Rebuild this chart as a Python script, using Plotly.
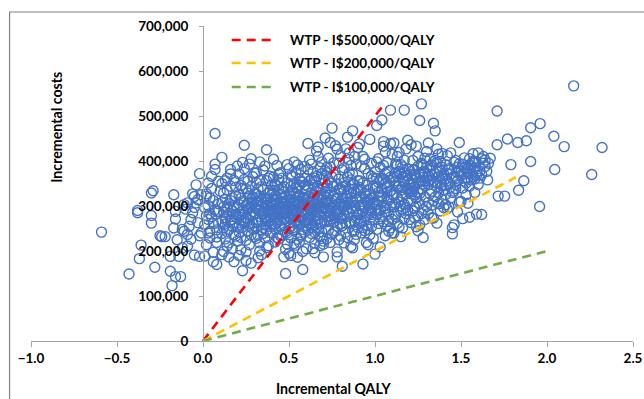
import plotly.graph_objects as go

# Probabilistic sensitivity analysis: incremental QALY vs incremental cost (thousands)
# Negative-QALY tail
qaly_neg = [
    -0.59, -0.43, -0.18, -0.16, -0.13, -0.19, -0.28, -0.37, -0.36, -0.38,
    -0.38, -0.29, -0.30, -0.30, -0.30, -0.24, -0.22, -0.25, -0.17, -0.16,
    -0.16, -0.17, -0.15, -0.19, -0.14, -0.11, -0.12, -0.09, -0.10, -0.09,
    -0.05, -0.06, -0.03, -0.04, -0.02, -0.05, -0.02, -0.12, -0.09, -0.07,
    -0.06, -0.01, -0.04, -0.03, -0.08, -0.02, -0.11, -0.05, -0.01, -0.07,
]
cost_neg = [
    242, 149, 123, 143, 143, 155, 164, 183, 213, 285,
    290, 334, 329, 279, 262, 232, 232, 234, 325, 288,
    271, 251, 225, 188, 188, 244, 248, 237, 293, 307,
    321, 327, 314, 347, 372, 191, 188, 207, 211, 270,
    285, 325, 307, 263, 255, 234, 303, 297, 240, 226,
]

# Main cloud, 0.0 - 1.0 QALY
qaly_low = [
    0.01, 0.03, 0.05, 0.02, 0.07, 0.04, 0.09, 0.06, 0.08, 0.03,
    0.07, 0.02, 0.05, 0.09, 0.01, 0.06, 0.04, 0.08, 0.03, 0.07,
    0.05, 0.08, 0.02, 0.09, 0.04, 0.06, 0.01, 0.10, 0.07, 0.03,
    0.06, 0.09, 0.04, 0.02, 0.08,
    0.11, 0.14, 0.12, 0.17, 0.19, 0.13, 0.16, 0.18, 0.15, 0.11,
    0.13, 0.16, 0.19, 0.12, 0.14, 0.17, 0.15, 0.18, 0.11, 0.20,
    0.15, 0.12, 0.18, 0.14, 0.16, 0.19, 0.11, 0.13, 0.17, 0.20,
    0.17, 0.14, 0.12, 0.19, 0.16, 0.13, 0.18, 0.15, 0.11, 0.20,
    0.14, 0.18, 0.16, 0.12, 0.19, 0.15, 0.13, 0.17, 0.11, 0.20,
    0.21, 0.24, 0.27, 0.22, 0.29, 0.25, 0.23, 0.28, 0.26, 0.21,
    0.23, 0.26, 0.29, 0.22, 0.25, 0.28, 0.24, 0.27, 0.21, 0.30,
    0.25, 0.22, 0.28, 0.24, 0.26, 0.29, 0.21, 0.23, 0.27, 0.30,
    0.27, 0.24, 0.22, 0.29, 0.26, 0.23, 0.28, 0.25, 0.21, 0.30,
    0.24, 0.28, 0.26, 0.22, 0.29, 0.25, 0.23, 0.27, 0.21, 0.30,
    0.26, 0.21, 0.29, 0.23, 0.28, 0.24, 0.22, 0.27, 0.25, 0.30,
    0.31, 0.34, 0.37, 0.32, 0.39, 0.35, 0.33, 0.38, 0.36, 0.31,
    0.33, 0.36, 0.39, 0.32, 0.35, 0.38, 0.34, 0.37, 0.31, 0.40,
    0.35, 0.32, 0.38, 0.34, 0.36, 0.39, 0.31, 0.33, 0.37, 0.40,
    0.37, 0.34, 0.32, 0.39, 0.36, 0.33, 0.38, 0.35, 0.31, 0.40,
    0.34, 0.38, 0.36, 0.32, 0.39, 0.35, 0.33, 0.37, 0.31, 0.40,
    0.36, 0.31, 0.39, 0.33, 0.38, 0.34, 0.32, 0.37, 0.35, 0.40,
    0.33, 0.37, 0.35, 0.39, 0.31,
    0.41, 0.44, 0.47, 0.42, 0.49, 0.45, 0.43, 0.48, 0.46, 0.41,
    0.43, 0.46, 0.49, 0.42, 0.45, 0.48, 0.44, 0.47, 0.41, 0.50,
    0.45, 0.42, 0.48, 0.44, 0.46, 0.49, 0.41, 0.43, 0.47, 0.50,
    0.47, 0.44, 0.42, 0.49, 0.46, 0.43, 0.48, 0.45, 0.41, 0.50,
    0.44, 0.48, 0.46, 0.42, 0.49, 0.45, 0.43, 0.47, 0.41, 0.50,
    0.46, 0.41, 0.49, 0.43, 0.48, 0.44, 0.42, 0.47, 0.45, 0.50,
    0.48, 0.42, 0.45, 0.47, 0.44, 0.41, 0.49, 0.43, 0.46, 0.50,
    0.51, 0.54, 0.57, 0.52, 0.59, 0.55, 0.53, 0.58, 0.56, 0.51,
    0.53, 0.56, 0.59, 0.52, 0.55, 0.58, 0.54, 0.57, 0.51, 0.60,
    0.55, 0.52, 0.58, 0.54, 0.56, 0.59, 0.51, 0.53, 0.57, 0.60,
    0.57, 0.54, 0.52, 0.59, 0.56, 0.53, 0.58, 0.55, 0.51, 0.60,
    0.54, 0.58, 0.56, 0.52, 0.59, 0.55, 0.53, 0.57, 0.51, 0.60,
    0.56, 0.51, 0.59, 0.53, 0.58, 0.54, 0.52, 0.57, 0.55, 0.60,
    0.58, 0.52, 0.55, 0.57, 0.54, 0.51, 0.59, 0.53, 0.56, 0.60,
    0.53, 0.57, 0.55, 0.51, 0.59,
    0.61, 0.64, 0.67, 0.62, 0.69, 0.65, 0.63, 0.68, 0.66, 0.61,
    0.63, 0.66, 0.69, 0.62, 0.65, 0.68, 0.64, 0.67, 0.61, 0.70,
    0.65, 0.62, 0.68, 0.64, 0.66, 0.69, 0.61, 0.63, 0.67, 0.70,
    0.67, 0.64, 0.62, 0.69, 0.66, 0.63, 0.68, 0.65, 0.61, 0.70,
    0.64, 0.68, 0.66, 0.62, 0.69, 0.65, 0.63, 0.67, 0.61, 0.70,
    0.66, 0.61, 0.69, 0.63, 0.68, 0.64, 0.62, 0.67, 0.65, 0.70,
    0.68, 0.62, 0.65, 0.67, 0.64, 0.61, 0.69, 0.63, 0.66, 0.70,
    0.63, 0.67, 0.65, 0.61, 0.69,
    0.71, 0.74, 0.77, 0.72, 0.79, 0.75, 0.73, 0.78, 0.76, 0.71,
    0.73, 0.76, 0.79, 0.72, 0.75, 0.78, 0.74, 0.77, 0.71, 0.80,
    0.75, 0.72, 0.78, 0.74, 0.76, 0.79, 0.71, 0.73, 0.77, 0.80,
    0.77, 0.74, 0.72, 0.79, 0.76, 0.73, 0.78, 0.75, 0.71, 0.80,
    0.74, 0.78, 0.76, 0.72, 0.79, 0.75, 0.73, 0.77, 0.71, 0.80,
    0.76, 0.71, 0.79, 0.73, 0.78, 0.74, 0.72, 0.77, 0.75, 0.80,
    0.78, 0.72, 0.75, 0.77, 0.74, 0.70, 0.79, 0.73, 0.76, 0.80,
    0.81, 0.84, 0.87, 0.82, 0.89, 0.85, 0.83, 0.88, 0.86, 0.81,
    0.83, 0.86, 0.89, 0.82, 0.85, 0.88, 0.84, 0.87, 0.81, 0.90,
    0.85, 0.82, 0.88, 0.84, 0.86, 0.89, 0.81, 0.83, 0.87, 0.90,
    0.87, 0.84, 0.82, 0.89, 0.86, 0.83, 0.88, 0.85, 0.81, 0.90,
    0.84, 0.88, 0.86, 0.82, 0.89, 0.85, 0.83, 0.87, 0.81, 0.90,
    0.86, 0.81, 0.89, 0.83, 0.88, 0.84, 0.82, 0.87, 0.85, 0.90,
    0.88, 0.82, 0.85, 0.87, 0.84,
    0.91, 0.94, 0.97, 0.92, 0.99, 0.95, 0.93, 0.98, 0.96, 0.91,
    0.93, 0.96, 0.99, 0.92, 0.95, 0.98, 0.94, 0.97, 0.91, 1.00,
    0.95, 0.92, 0.98, 0.94, 0.96, 0.99, 0.91, 0.93, 0.97, 1.00,
    0.97, 0.94, 0.92, 0.99, 0.96, 0.93, 0.98, 0.95, 0.91, 1.00,
    0.94, 0.98, 0.96, 0.92, 0.99, 0.95, 0.93, 0.97, 0.91, 1.00,
    0.96, 0.91, 0.99, 0.93, 0.98, 0.94, 0.92, 0.97, 0.95, 1.00,
]
cost_low = [
    258, 301, 276, 322, 393, 244, 288, 312, 231, 270,
    381, 214, 339, 262, 296, 197, 318, 247, 351, 461,
    366, 170, 278, 305, 229, 261, 189, 333, 292, 240,
    176, 355, 283, 327, 219,
    408, 296, 252, 318, 281, 227, 344, 263, 305, 192,
    274, 371, 233, 329, 211, 290, 248, 357, 308, 222,
    187, 286, 301, 362, 268, 342, 239, 315, 205, 389,
    255, 335, 199, 277, 312, 260, 236, 283, 350, 297,
    243, 176, 381, 298, 322, 218, 356, 270, 265, 253,
    303, 435, 261, 346, 287, 224, 397, 315, 272, 242,
    156, 329, 365, 281, 301, 236, 262, 393, 326, 297,
    198, 269, 173, 308, 355, 249, 276, 339, 214, 284,
    321, 383, 230, 263, 292, 311, 343, 179, 259, 373,
    267, 298, 244, 203, 319, 338, 288, 255, 371, 232,
    306, 190, 280, 253, 405, 359, 317, 295, 274, 327,
    294, 268, 425, 312, 241, 336, 277, 301, 258, 352,
    218, 389, 287, 262, 306, 329, 192, 274, 310, 347,
    283, 235, 362, 299, 318, 255, 374, 290, 208, 281,
    315, 247, 338, 308, 229, 398, 266, 289, 263, 324,
    343, 212, 296, 185, 366, 251, 322, 271, 228, 303,
    276, 302, 334, 357, 291, 313, 270, 246, 380, 260,
    200, 356, 239, 279, 327,
    404, 297, 271, 322, 310, 256, 345, 283, 236, 300,
    263, 318, 352, 288, 374, 243, 227, 331, 279, 294,
    309, 249, 296, 337, 286, 215, 364, 304, 258, 383,
    187, 358, 275, 267, 339, 291, 320, 234, 316, 251,
    281, 204, 305, 348, 392, 268, 230, 299, 255, 327,
    362, 287, 240, 313, 272, 299, 220, 343, 326, 195,
    150, 260, 289, 307, 371, 335, 285, 390, 248, 277,
    190, 302, 287, 335, 268, 391, 245, 318, 296, 272,
    310, 259, 347, 283, 226, 305, 374, 264, 321, 293,
    339, 251, 279, 213, 360, 242, 298, 330, 381, 316,
    236, 326, 366, 301, 277, 290, 199, 312, 343, 257,
    285, 353, 220, 307, 388, 270, 262, 299, 229, 335,
    324, 368, 284, 217, 248, 341, 292, 355, 261, 205,
    159, 275, 304, 233, 267, 314, 319, 398, 345, 281,
    350, 273, 186, 254, 362,
    439, 317, 296, 272, 350, 241, 329, 385, 305, 262,
    283, 366, 314, 402, 278, 232, 205, 339, 307, 295,
    354, 322, 260, 376, 286, 243, 344, 253, 410, 325,
    270, 298, 230, 288, 333, 393, 318, 362, 284, 222,
    347, 300, 251, 311, 372, 218, 300, 279, 381, 187,
    422, 246, 264, 359, 336, 289, 356, 316, 267, 340,
    212, 293, 325, 249, 258, 320, 398, 277, 302, 361,
    239, 431, 196, 275, 228,
    451, 298, 326, 265, 305, 473, 358, 282, 242, 331,
    289, 344, 395, 310, 237, 317, 387, 274, 352, 260,
    313, 228, 348, 267, 301, 225, 379, 323, 290, 412,
    369, 219, 294, 337, 279, 406, 255, 296, 312, 338,
    330, 198, 321, 374, 286, 351, 247, 434, 269, 304,
    263, 308, 360, 276, 426, 284, 340, 245, 365, 233,
    187, 386, 272, 315, 441, 215, 292, 302, 396, 271,
    166, 453, 467, 306, 329, 285, 262, 348, 295, 380,
    317, 210, 273, 352, 403, 244, 321, 371, 296, 430,
    338, 280, 301, 230, 390, 314, 256, 427, 287, 356,
    246, 365, 218, 393, 327, 301, 266, 305, 342, 281,
    292, 410, 260, 333, 237, 374, 344, 312, 275, 252,
    358, 316, 289, 242, 331, 277, 385, 207, 264, 336,
    225, 299, 418, 350, 309,
    438, 297, 448, 335, 306, 258, 171, 281, 214, 320,
    289, 372, 343, 268, 311, 395, 245, 327, 356, 293,
    346, 302, 254, 383, 292, 270, 280, 410, 313, 193,
    236, 328, 240, 362, 336, 299, 318, 277, 262, 340,
    274, 366, 309, 388, 228, 322, 252, 296, 341, 376,
    248, 301, 319, 351, 288, 404, 265, 284, 219, 308,
]

# Main cloud, 1.0 - 1.7 QALY
qaly_high = [
    1.01, 1.04, 1.07, 1.02, 1.09, 1.05, 1.03, 1.08, 1.06, 1.01,
    1.03, 1.06, 1.09, 1.02, 1.05, 1.08, 1.04, 1.07, 1.01, 1.10,
    1.05, 1.02, 1.08, 1.04, 1.06, 1.09, 1.01, 1.03, 1.07, 1.10,
    1.07, 1.04, 1.02, 1.09, 1.06, 1.03, 1.08, 1.05, 1.01, 1.10,
    1.04, 1.08, 1.06, 1.02, 1.09, 1.05, 1.03, 1.07, 1.01, 1.10,
    1.06, 1.01, 1.09, 1.03, 1.08, 1.04, 1.02, 1.07, 1.05, 1.10,
    1.11, 1.14, 1.17, 1.12, 1.19, 1.15, 1.13, 1.18, 1.16, 1.11,
    1.13, 1.16, 1.19, 1.12, 1.15, 1.18, 1.14, 1.17, 1.11, 1.20,
    1.15, 1.12, 1.18, 1.14, 1.16, 1.19, 1.11, 1.13, 1.17, 1.20,
    1.17, 1.14, 1.12, 1.19, 1.16, 1.13, 1.18, 1.15, 1.11, 1.20,
    1.14, 1.18, 1.16, 1.12, 1.19, 1.15, 1.13, 1.17, 1.11, 1.20,
    1.16, 1.11, 1.19, 1.13, 1.18,
    1.21, 1.24, 1.27, 1.22, 1.29, 1.25, 1.23, 1.28, 1.26, 1.21,
    1.23, 1.26, 1.29, 1.22, 1.25, 1.28, 1.24, 1.27, 1.21, 1.30,
    1.25, 1.22, 1.28, 1.24, 1.26, 1.29, 1.21, 1.23, 1.27, 1.30,
    1.27, 1.24, 1.22, 1.29, 1.26, 1.23, 1.28, 1.25, 1.21, 1.30,
    1.24, 1.28, 1.26, 1.22, 1.29, 1.25, 1.23, 1.27, 1.21, 1.30,
    1.31, 1.34, 1.37, 1.32, 1.39, 1.35, 1.33, 1.38, 1.36, 1.31,
    1.33, 1.36, 1.39, 1.32, 1.35, 1.38, 1.34, 1.37, 1.31, 1.40,
    1.35, 1.32, 1.38, 1.34, 1.36, 1.39, 1.31, 1.33, 1.37, 1.40,
    1.37, 1.34, 1.32, 1.39, 1.36, 1.33, 1.38, 1.35, 1.31, 1.40,
    1.41, 1.44, 1.47, 1.42, 1.49, 1.45, 1.43, 1.48, 1.46, 1.41,
    1.43, 1.46, 1.49, 1.42, 1.45, 1.48, 1.44, 1.47, 1.41, 1.50,
    1.45, 1.42, 1.48, 1.44, 1.46, 1.49, 1.41, 1.43, 1.47, 1.50,
    1.51, 1.54, 1.57, 1.52, 1.59, 1.55, 1.53, 1.58, 1.56, 1.51,
    1.53, 1.56, 1.59, 1.52, 1.55, 1.58, 1.54, 1.57, 1.51, 1.60,
    1.55, 1.52, 1.58, 1.54, 1.57,
    1.62, 1.65, 1.67, 1.61, 1.64,
]
cost_high = [
    479, 491, 317, 289, 513, 359, 209, 346, 234, 303,
    323, 372, 439, 261, 300, 282, 338, 396, 248, 326,
    443, 353, 268, 310, 295, 364, 342, 386, 256, 240,
    331, 276, 405, 299, 349, 292, 378, 265, 361, 307,
    361, 313, 420, 330, 251, 390, 272, 341, 283, 415,
    287, 398, 334, 357, 244, 320, 312, 376, 433, 270,
    440, 345, 513, 305, 446, 371, 261, 327, 293, 352,
    318, 387, 358, 277, 232, 339, 419, 304, 365, 381,
    335, 393, 283, 254, 363, 311, 298, 342, 402, 348,
    272, 376, 346, 290, 321, 410, 368, 300, 240, 332,
    309, 427, 251, 374, 336, 288, 391, 355, 323, 270,
    342, 282, 383, 366, 297,
    436, 433, 527, 380, 320, 351, 296, 390, 490, 263,
    342, 305, 373, 357, 278, 230, 362, 337, 312, 421,
    388, 289, 349, 254, 372, 406, 347, 325, 283, 299,
    355, 318, 401, 270, 328, 369, 292, 245, 370, 364,
    300, 376, 258, 332, 345, 410, 274, 392, 327, 386,
    440, 484, 415, 379, 314, 467, 302, 352, 262, 366,
    391, 343, 417, 327, 372, 289, 355, 305, 283, 337,
    320, 405, 378, 273, 397, 346, 347, 332, 365, 296,
    384, 311, 358, 362, 427, 274, 399, 352, 308, 371,
    360, 418, 339, 294, 441, 238, 383, 374, 258, 325,
    349, 397, 309, 372, 252, 356, 318, 401, 392, 369,
    330, 412, 287, 342, 366, 378, 303, 298, 347, 310,
    272, 362, 381, 407, 368, 275, 351, 396, 389, 340,
    325, 372, 282, 355, 405, 360, 376, 416, 393, 348,
    344, 371, 330, 306, 366,
    281, 377, 406, 362, 388,
]

# Extra draws in the densest parts of the cloud
qaly_dense = [
    1.22, 1.27, 1.33, 1.38, 1.43, 1.47, 1.52, 1.56, 1.25, 1.35,
    1.41, 1.46, 1.29, 1.32, 1.37, 1.44, 1.49, 1.53, 1.58, 1.24,
    1.12, 1.17, 1.15, 1.21, 1.26, 1.31, 1.36, 1.42, 1.48, 1.55,
    1.19, 1.23, 1.28, 1.34, 1.39, 1.45, 1.50, 1.54, 1.59, 1.63,
    0.32, 0.37, 0.43, 0.48, 0.53, 0.58, 0.35, 0.41, 0.46, 0.52,
    0.56, 0.62, 0.66, 0.72, 0.77, 0.38, 0.44, 0.49, 0.55, 0.61,
    0.64, 0.69, 0.74, 0.28, 0.23, 0.18, 0.13, 0.08, 0.86, 0.93,
]
cost_dense = [
    347, 395, 368, 341, 380, 362, 384, 358, 331, 401,
    347, 333, 355, 389, 329, 371, 394, 363, 399, 319,
    356, 374, 392, 339, 374, 356, 376, 356, 386, 391,
    368, 380, 364, 398, 386, 362, 376, 383, 375, 395,
    293, 302, 286, 311, 297, 289, 284, 307, 295, 280,
    309, 301, 292, 307, 286, 315, 276, 290, 322, 269,
    311, 296, 278, 306, 282, 295, 270, 288, 318, 304,
]

# Sparse right-hand tail
qaly_tail = [
    2.155, 1.71, 1.77, 1.71, 1.79, 1.83, 1.88, 1.905, 1.96, 2.04,
    2.10, 2.32, 2.26, 2.045, 1.905, 1.865, 1.835, 1.957, 1.716, 1.754,
    1.655, 1.63, 1.62, 1.60, 1.64, 1.61, 1.66, 1.58, 1.62, 1.57,
]
cost_tail = [
    567, 511, 449, 436, 392, 441, 445, 474, 483, 455,
    432, 430, 370, 381, 399, 356, 335, 299, 322, 322,
    358, 410, 405, 418, 402, 378, 395, 385, 370, 400,
]

# Willingness-to-pay thresholds (cost per QALY) and the QALY extent of each line
wtp_values = [500000, 200000, 100000]
wtp_qaly_end = [1.05, 1.82, 2.0]
wtp_labels = ["WTP - I$500,000/QALY", "WTP - I$200,000/QALY", "WTP - I$100,000/QALY"]
wtp_colors = ["#FF0000", "#FFC000", "#70AD47"]

x_ticks = [-1.0, -0.5, 0.0, 0.5, 1.0, 1.5, 2.0, 2.5]
y_ticks = [0, 100000, 200000, 300000, 400000, 500000, 600000, 700000]

qaly = qaly_neg + qaly_low + qaly_dense + qaly_high + qaly_tail
cost = [c * 1000 for c in cost_neg + cost_low + cost_dense + cost_high + cost_tail]

FONT = "Lato"
DASH = "9px,6px"
TXT = dict(family=FONT, size=13.5, color="black", weight="bold")
TITLE = dict(family=FONT, size=14.2, color="black", weight="bold")

fig = go.Figure()

fig.add_trace(go.Scatter(
    x=qaly, y=cost, mode="markers",
    marker=dict(symbol="circle-open", size=10, color="#4472C4",
                line=dict(width=1.4, color="#4472C4")),
    showlegend=False, hoverinfo="x+y",
))

for wtp, x_end, label, color in zip(wtp_values, wtp_qaly_end, wtp_labels, wtp_colors):
    fig.add_trace(go.Scatter(
        x=[0, x_end], y=[0, wtp * x_end], mode="lines", name=label,
        line=dict(color=color, width=2.6, dash=DASH),
        showlegend=False,
    ))

# Outer frame and legend keys drawn in paper space
shapes = [dict(type="rect", xref="paper", yref="paper",
               x0=-0.0356, x1=1.2, y0=-0.5, y1=1.0444,
               line=dict(color="#808080", width=1.2), layer="below")]
annotations = []
legend_rows = [0.9556, 0.8825, 0.8063]
for label, color, yrow in zip(wtp_labels, wtp_colors, legend_rows):
    shapes.append(dict(type="line", xref="paper", yref="paper",
                       x0=0.3334, x1=0.4016, y0=yrow, y1=yrow,
                       line=dict(color=color, width=2.6, dash=DASH)))
    annotations.append(dict(text=label, xref="paper", yref="paper",
                            x=0.4266, y=yrow, xanchor="left", yanchor="middle",
                            showarrow=False, font=TXT))

annotations.append(dict(text="Incremental costs", xref="paper", yref="paper",
                        x=0.0409, y=0.679, textangle=-90, showarrow=False,
                        xanchor="center", yanchor="middle", font=TITLE))
annotations.append(dict(text="Incremental QALY", xref="paper", yref="paper",
                        x=0.503, y=-0.152, showarrow=False,
                        xanchor="center", yanchor="middle", font=TITLE))

fig.update_layout(
    width=644, height=399, autosize=False,
    margin=dict(l=31, r=11, t=26, b=58),
    paper_bgcolor="white", plot_bgcolor="white",
    shapes=shapes, annotations=annotations,
    xaxis=dict(
        range=[-1.0, 2.5], tickvals=x_ticks, tickformat=".1f",
        automargin=False,
        showgrid=False, zeroline=False,
        showline=True, linecolor="#A6A6A6", linewidth=1,
        ticks="outside", ticklen=5, tickcolor="#A6A6A6",
        tickfont=TXT,
    ),
    yaxis=dict(
        range=[0, 700000], tickvals=y_ticks, tickformat=",",
        automargin=False,
        anchor="free", position=1.0 / 3.5, side="left",
        showgrid=False, zeroline=False,
        showline=True, linecolor="#A6A6A6", linewidth=1,
        ticks="outside", ticklen=4, tickcolor="#A6A6A6",
        ticklabelstandoff=8,
        tickfont=TXT,
    ),
)

fig.write_html("out.html")
